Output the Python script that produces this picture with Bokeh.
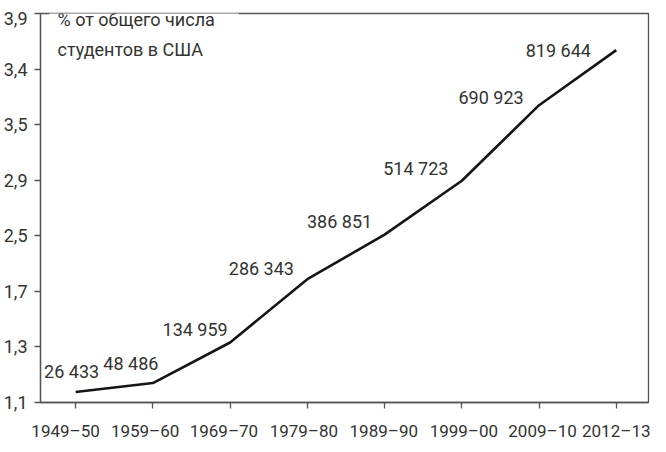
from bokeh.plotting import figure
from bokeh.models import FixedTicker, Range1d, Label, ColumnDataSource, LinearAxis
from bokeh.core.properties import value
from bokeh.embed import file_html
from bokeh.resources import INLINE

# Data
periods = ["1949–50", "1959–60", "1969–70", "1979–80", "1989–90", "1999–00", "2009–10", "2012–13"]
students = ["26 433", "48 486", "134 959", "286 343", "386 851", "514 723", "690 923", "819 644"]
# share values expressed as position along the (evenly spaced) y tick scale
share_pos = [0.19, 0.35, 1.08, 2.22, 3.02, 3.99, 5.35, 6.34]
y_tick_labels = ["1,1", "1,3", "1,7", "2,5", "2,9", "3,5", "3,4", "3,9"]

# layout: label placement (screen px offsets for value labels, axis units for tick labels)
label_dx = [-4, -22, -35, -46, -45, -46, -48, -58]
label_dy = [-20, -20, -13, -11, -13, -12, -8, 0]
x_label_pos = [-0.13, 0.90, 1.92, 2.955, 3.99, 5.027, 6.045, 7.05]
y_label_pos = [0, 1, 2, 3, 4, 5, 6, 6.91]

FONT = "Roboto"
FS = "18px"
TXT = "#333333"
AX = "#555555"

x = list(range(len(periods)))
y_ticks = list(range(len(y_tick_labels)))
p = figure(width=650, height=443, output_backend="svg", toolbar_location=None,
           x_range=Range1d(-0.455, 7.417), y_range=Range1d(0, 7),
           min_border_left=39, min_border_top=13, min_border_right=2,
           min_border_bottom=39)
p.background_fill_color = "white"
p.border_fill_color = "white"
p.outline_line_color = AX
p.outline_line_width = 1.3
p.xgrid.visible = False
p.ygrid.visible = False

src = ColumnDataSource(dict(x=x, y=share_pos, lab=students, dx=label_dx, dy=label_dy))
p.line("x", "y", source=src, line_color="#151515", line_width=2.6)
p.text("x", "y", text="lab", source=src, x_offset="dx", y_offset="dy",
       text_align="center", text_baseline="middle", text_font=value(FONT),
       text_font_size=FS, text_color=TXT)

# tick-mark axes (labels suppressed)
p.xaxis.ticker = FixedTicker(ticks=x)
p.yaxis.ticker = FixedTicker(ticks=y_ticks)
p.xaxis.major_label_overrides = {v: "" for v in x}
p.yaxis.major_label_overrides = {v: "" for v in y_ticks}
for ax in (p.xaxis, p.yaxis):
    ax.axis_line_color = AX
    ax.axis_line_width = 1.3
    ax.major_tick_line_color = AX
    ax.major_tick_line_width = 1.3
    ax.major_tick_in = 0
    ax.major_tick_out = 6
    ax.minor_tick_line_color = None
    ax.major_label_text_font_size = "1px"
    ax.major_label_text_color = None
    ax.major_label_standoff = 0

# label-only axes
xlab = LinearAxis(ticker=FixedTicker(ticks=x_label_pos),
                  major_label_overrides={v: s for v, s in zip(x_label_pos, periods)})
ylab = LinearAxis(ticker=FixedTicker(ticks=y_label_pos),
                  major_label_overrides={v: s for v, s in zip(y_label_pos, y_tick_labels)})
for ax in (xlab, ylab):
    ax.axis_line_color = None
    ax.major_tick_line_color = None
    ax.minor_tick_line_color = None
    ax.major_tick_in = 0
    ax.major_tick_out = 0
    ax.major_label_text_font = FONT
    ax.major_label_text_color = TXT
xlab.major_label_text_font_size = "17px"
xlab.major_label_standoff = 12
ylab.major_label_text_font_size = FS
ylab.major_label_standoff = 7
p.add_layout(xlab, "below")
p.add_layout(ylab, "left")

title = Label(x=9, y=396, x_units="screen", y_units="screen",
              text="% от общего числа\nстудентов в США",
              text_font=FONT, text_font_size=FS, text_color=TXT,
              text_align="left", text_baseline="top", text_line_height=1.45,
              background_fill_color="white",
              padding=dict(left=8, right=24, top=2, bottom=2))
p.add_layout(title)

open("out.html", "w").write(file_html(p, INLINE))
